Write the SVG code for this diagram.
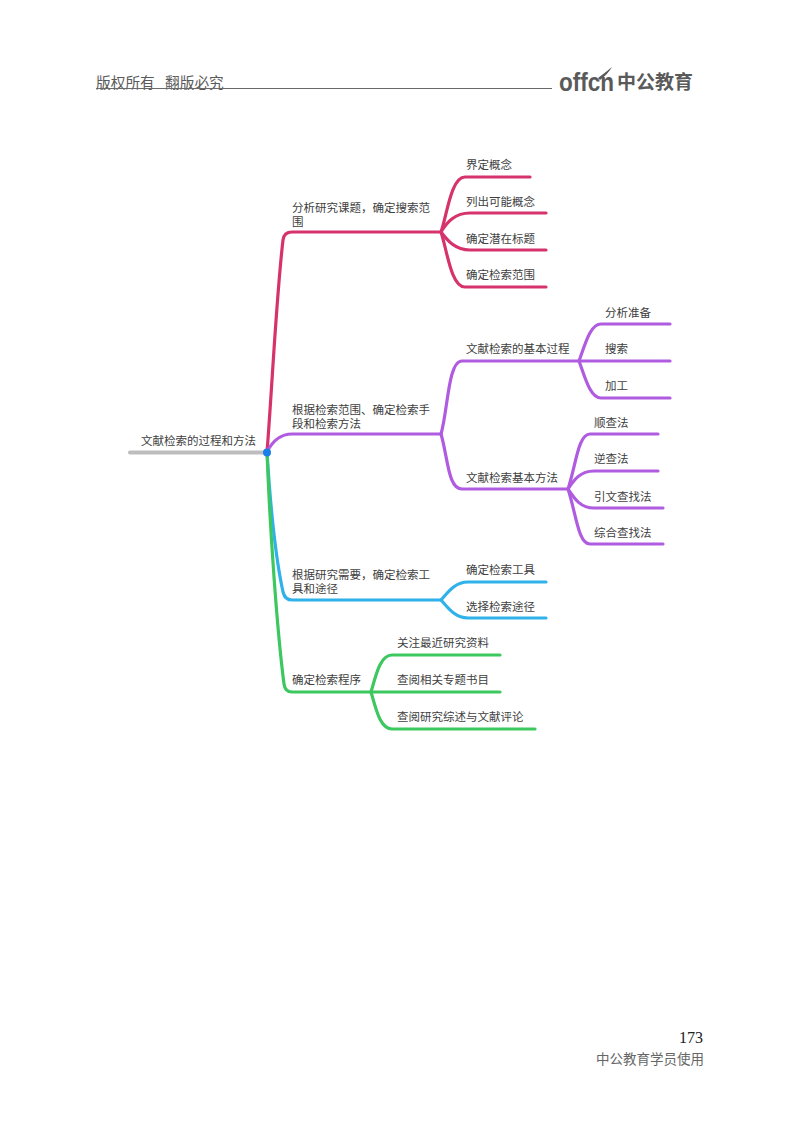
<svg xmlns="http://www.w3.org/2000/svg" width="800" height="1124" viewBox="0 0 800 1124">
<style>
text{font-family:"Noto Sans CJK SC","Liberation Sans",sans-serif;font-size:11.5px;fill:#404040}
.c{fill:none;stroke-width:3.2;stroke-linecap:round;stroke-linejoin:round}
.r{stroke:#d6336c}.p{stroke:#b05ce0}.b{stroke:#2fb2ea}.g{stroke:#3cc75f}
.h{font-size:14.700px;fill:#5a5a5a}
</style>
<rect width="800" height="1124" fill="#fff"/>
<g id="header">
<text class="h" x="96" y="87.500">版权所有</text>
<text class="h" x="165" y="87.500">翻版必究</text>
<line x1="96" y1="88.500" x2="552" y2="88.500" stroke="#6a6a6a" stroke-width="1.2"/>
<text x="559" y="91" style="font-family:'Liberation Sans',sans-serif;font-size:25px;font-weight:bold;fill:#5a5a5a" textLength="55" lengthAdjust="spacingAndGlyphs">offcn</text>
<path d="M598 78Q606 72 612 67Q608 74 600 80Z" fill="#5a5a5a"/>
<text x="617" y="89" style="font-size:19px;font-weight:bold;fill:#5a5a5a">中公教育</text>
</g>
<g id="connectors">
<path class="c" d="M130 452.500H267" style="stroke:#bdbdbd;stroke-width:4"/>
<path class="c r" d="M267 452C272 390 276 300 283 240Q284 232 292 232H441"/>
<path class="c r" d="M441 232C447 215 451 177 465 177H530"/>
<path class="c r" d="M441 232C447 222 455 213 470 213H546"/>
<path class="c r" d="M441 232C447 240 455 250 470 250H546"/>
<path class="c r" d="M441 232C447 250 451 287 465 287H546"/>
<path class="c p" d="M267 452C272 442 280 434 292 434H441"/>
<path class="c p" d="M441 434C448 410 448 361 462 361H579"/>
<path class="c p" d="M441 434C448 458 448 489 462 489H568"/>
<path class="c p" d="M579 361C585 345 590 324 601 324H670"/>
<path class="c p" d="M579 361H670"/>
<path class="c p" d="M579 361C585 377 590 398 601 398H670"/>
<path class="c p" d="M568 489C576 465 578 434 590 434H658"/>
<path class="c p" d="M568 489C574 480 580 471 594 471H658"/>
<path class="c p" d="M568 489C574 498 580 508 594 508H663"/>
<path class="c p" d="M568 489C576 513 578 544 590 544H663"/>
<path class="c b" d="M267 452C270 500 275 555 283 592Q285 600 292 600H441"/>
<path class="c b" d="M441 600C448 592 455 582 468 582H546"/>
<path class="c b" d="M441 600C448 608 455 618 468 618H546"/>
<path class="c g" d="M267 452C270 530 277 630 284 684Q285 692 292 692H371"/>
<path class="c g" d="M371 692C376 675 380 655 392 655H500"/>
<path class="c g" d="M371 692H500"/>
<path class="c g" d="M371 692C376 709 380 729 392 729H535"/>
</g>
<g id="root"><circle cx="267" cy="452.500" r="4" fill="#1a7fe8"/><text x="141" y="445">文献检索的过程和方法</text></g>
<g id="n1"><text x="292" y="211.500">分析研究课题，确定搜索范<tspan x="292" dy="14">围</tspan></text></g>
<g id="n1a"><text x="466" y="169">界定概念</text></g>
<g id="n1b"><text x="466" y="206">列出可能概念</text></g>
<g id="n1c"><text x="466" y="243">确定潜在标题</text></g>
<g id="n1d"><text x="466" y="279">确定检索范围</text></g>
<g id="n2"><text x="292" y="413.500">根据检索范围、确定检索手<tspan x="292" dy="14">段和检索方法</tspan></text></g>
<g id="n2a"><text x="466" y="353">文献检索的基本过程</text></g>
<g id="n2a1"><text x="605" y="317">分析准备</text></g>
<g id="n2a2"><text x="605" y="353">搜索</text></g>
<g id="n2a3"><text x="605" y="390">加工</text></g>
<g id="n2b"><text x="466" y="482">文献检索基本方法</text></g>
<g id="n2b1"><text x="594" y="427">顺查法</text></g>
<g id="n2b2"><text x="594" y="463">逆查法</text></g>
<g id="n2b3"><text x="594" y="501">引文查找法</text></g>
<g id="n2b4"><text x="594" y="537">综合查找法</text></g>
<g id="n3"><text x="292" y="579">根据研究需要，确定检索工<tspan x="292" dy="14">具和途径</tspan></text></g>
<g id="n3a"><text x="466" y="574">确定检索工具</text></g>
<g id="n3b"><text x="466" y="611">选择检索途径</text></g>
<g id="n4"><text x="292" y="684">确定检索程序</text></g>
<g id="n4a"><text x="397" y="647">关注最近研究资料</text></g>
<g id="n4b"><text x="397" y="684">查阅相关专题书目</text></g>
<g id="n4c"><text x="397" y="721">查阅研究综述与文献评论</text></g>
<g id="footer">
<text x="703" y="1043" text-anchor="end" style="font-family:'Liberation Serif',serif;font-size:16px;fill:#222">173</text>
<text x="596" y="1064" style="font-size:13.500px;fill:#666">中公教育学员使用</text>
</g>
</svg>
